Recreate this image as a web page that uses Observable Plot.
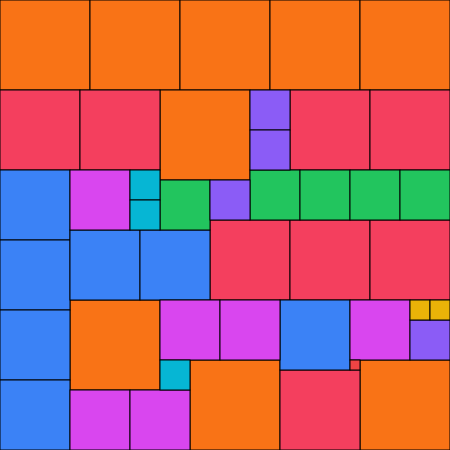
<!DOCTYPE html>
<html>
<head>
<meta charset="utf-8">
<script src="https://cdn.jsdelivr.net/npm/d3@7"></script>
<script src="https://cdn.jsdelivr.net/npm/@observablehq/plot@0.6"></script>
<style>
  html, body { margin: 0; padding: 0; background: #fff; }
  #chart svg { display: block; }
</style>
</head>
<body>
<div id="chart"></div>
<script>
// Square packing: each square's left, top and side length (data units 0..450)
const xs = [0, 90, 180, 270, 360, 160, 70, 190, 360,
            0, 80, 290, 370, 210, 290, 370, 280,
            0, 0, 0, 0, 70, 140, 280,
            70, 160, 220, 70, 130, 350,
            160, 250, 300, 350, 400,
            250, 250, 210, 410,
            130, 130, 160,
            410, 430,
            350];
const ys = [0, 0, 0, 0, 0, 90, 300, 360, 360,
            90, 90, 90, 90, 220, 220, 220, 370,
            170, 240, 310, 380, 230, 230, 300,
            170, 300, 300, 390, 390, 300,
            180, 170, 170, 170, 170,
            90, 130, 180, 320,
            170, 200, 360,
            300, 300,
            360];
const sizes = [90, 90, 90, 90, 90, 90, 90, 90, 90,
               80, 80, 80, 80, 80, 80, 80, 80,
               70, 70, 70, 70, 70, 70, 70,
               60, 60, 60, 60, 60, 60,
               50, 50, 50, 50, 50,
               40, 40, 40, 40,
               30, 30, 30,
               20, 20,
               10];
const sizeDomain = [90, 80, 70, 60, 50, 40, 30, 20, 10];
const palette = ["#f97316", "#f43f5e", "#3b82f6", "#d946ef", "#22c55e", "#8b5cf6", "#06b6d4", "#eab308", "#ef4444"];

const data = sizes.map((s, i) => ({x1: xs[i], y1: ys[i], x2: xs[i] + s, y2: ys[i] + s, size: s}));

const chart = Plot.plot({
  width: 450,
  height: 450,
  margin: 0,
  x: {domain: [0, 450], axis: null},
  y: {domain: [0, 450], reverse: true, axis: null},
  color: {type: "ordinal", domain: sizeDomain, range: palette},
  marks: [
    Plot.rect(data, {x1: "x1", x2: "x2", y1: "y1", y2: "y2", fill: "size", stroke: "#000", strokeWidth: 1})
  ]
});
document.getElementById("chart").append(chart);
</script>
</body>
</html>
